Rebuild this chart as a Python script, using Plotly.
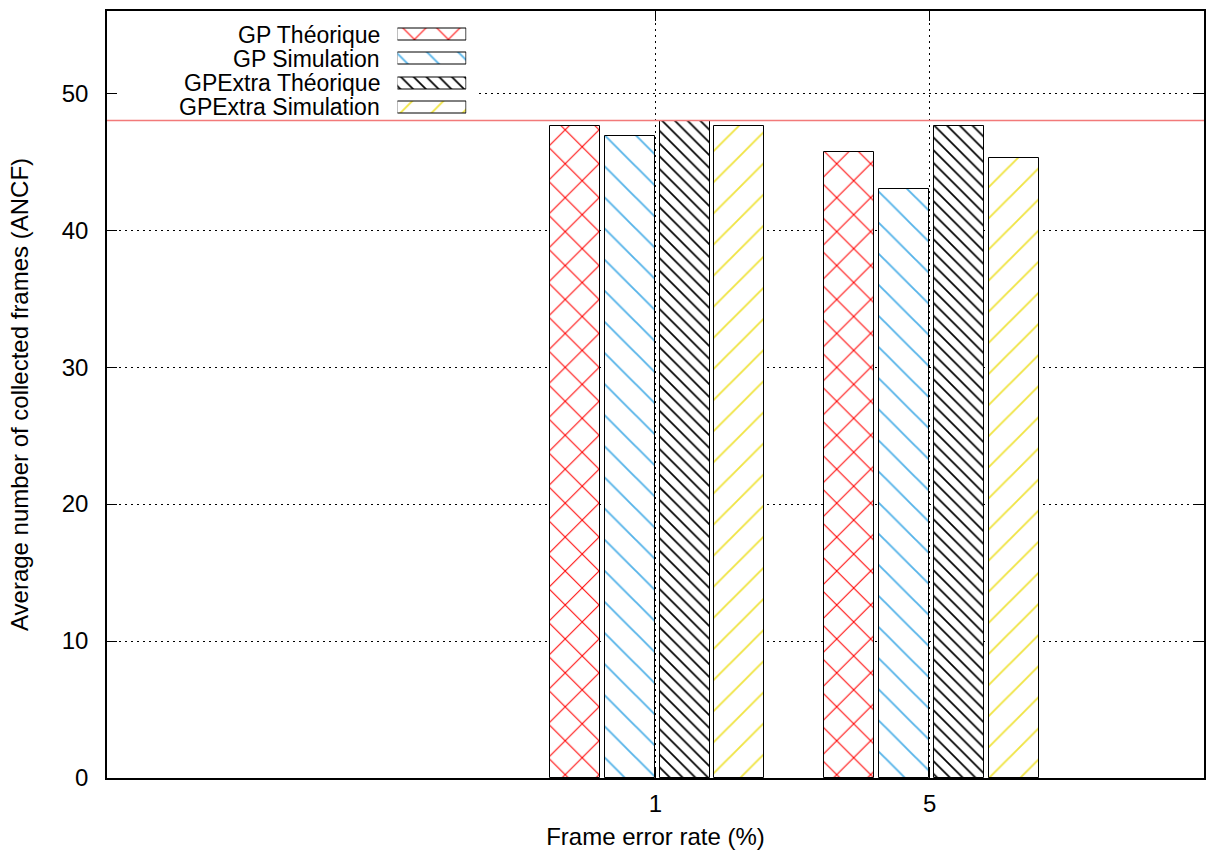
import plotly.graph_objects as go

# ---- data ----
categories = ["1", "5"]
series_names = ["GP Théorique", "GP Simulation", "GPExtra Théorique", "GPExtra Simulation"]
gp_theorique = [47.6, 45.7]
gp_simulation = [46.85, 43.0]
gpextra_theorique = [48.0, 47.6]
gpextra_simulation = [47.6, 45.3]
reference_value = 48
y_ticks = [0, 10, 20, 30, 40, 50]

series_values = [gp_theorique, gp_simulation, gpextra_theorique, gpextra_simulation]
colors = ["#ff0000", "#56b4e9", "#000000", "#f0e442"]
shapes_p = ["x", "\\", "\\", "/"]
sizes_p = [24, 22, 9, 22]
solid_p = [0.085, 0.085, 0.19, 0.085]

FONT = "Liberation Sans, Arial, sans-serif"
FS = 24
FS_KEY = 23

x_pos = list(range(len(categories)))
bar_w = 0.182
offsets = [-0.385, -0.185, 0.015, 0.215]

fig = go.Figure()
for i, name in enumerate(series_names):
    pat = dict(shape=shapes_p[i], fgcolor=colors[i], bgcolor="white", fgopacity=1,
               size=sizes_p[i], solidity=solid_p[i], fillmode="overlay")
    fig.add_trace(go.Bar(
        x=x_pos, y=series_values[i], width=bar_w, offset=offsets[i],
        name=name, showlegend=False,
        marker=dict(color="white", pattern=pat, line=dict(color="black", width=1)),
    ))
    # legend sample
    fig.add_trace(go.Bar(
        x=[1], y=[i], orientation="h", width=0.5, base=0,
        xaxis="x2", yaxis="y2", showlegend=False, hoverinfo="skip",
        marker=dict(color="white", pattern=pat, line=dict(color="black", width=1)),
    ))

annotations = []
for i, name in enumerate(series_names):
    annotations.append(dict(
        text=name, xref="paper", yref="y2", x=0.2511, y=i,
        xanchor="right", yanchor="middle", showarrow=False,
        font=dict(family=FONT, size=FS_KEY, color="black")))

shapes = [
    # white legend background (hides grid behind key)
    dict(type="rect", xref="x", yref="y", x0=-2, x1=-0.645, y0=48.3, y1=56,
         fillcolor="white", line=dict(width=0), layer="between"),
    dict(type="line", xref="paper", yref="y", x0=0, x1=1,
         y0=reference_value, y1=reference_value,
         line=dict(color="#f27a7a", width=1.5), layer="above"),
]

fig.update_layout(
    width=1208, height=853,
    margin=dict(l=107, r=2, t=11, b=75),
    paper_bgcolor="white", plot_bgcolor="white",
    font=dict(family=FONT, size=FS, color="black"),
    bargap=0, barmode="overlay",
    shapes=shapes, annotations=annotations,
    xaxis=dict(
        range=[-2, 2], tickvals=x_pos, ticktext=categories,
        showline=True, linecolor="black", linewidth=1.5, mirror="allticks",
        ticks="inside", ticklen=10, tickcolor="black",
        showgrid=True, gridcolor="black", gridwidth=1, griddash="2px,4px",
        zeroline=False, ticklabelstandoff=3,
        title=dict(text="Frame error rate (%)", standoff=13,
                   font=dict(family=FONT, size=FS)),
        tickfont=dict(family=FONT, size=FS),
    ),
    yaxis=dict(
        range=[0, 56], tickvals=y_ticks,
        showline=True, linecolor="black", linewidth=1.5, mirror="allticks",
        ticks="inside", ticklen=10, tickcolor="black",
        showgrid=True, gridcolor="black", gridwidth=1, griddash="2px,4px",
        zeroline=False, ticklabelstandoff=12,
        title=dict(text="Average number of collected frames (ANCF)", standoff=26,
                   font=dict(family=FONT, size=FS)),
        tickfont=dict(family=FONT, size=FS),
    ),
    xaxis2=dict(domain=[0.2648, 0.3276], anchor="y2", range=[0, 1],
                visible=False, fixedrange=True),
    yaxis2=dict(domain=[0.8585, 0.985], anchor="x2", range=[3.5, -0.5],
                visible=False, fixedrange=True),
)

fig.write_html("out.html", config={"displayModeBar": False},
               post_script="document.body.style.margin='0';document.body.style.overflow='hidden';")
